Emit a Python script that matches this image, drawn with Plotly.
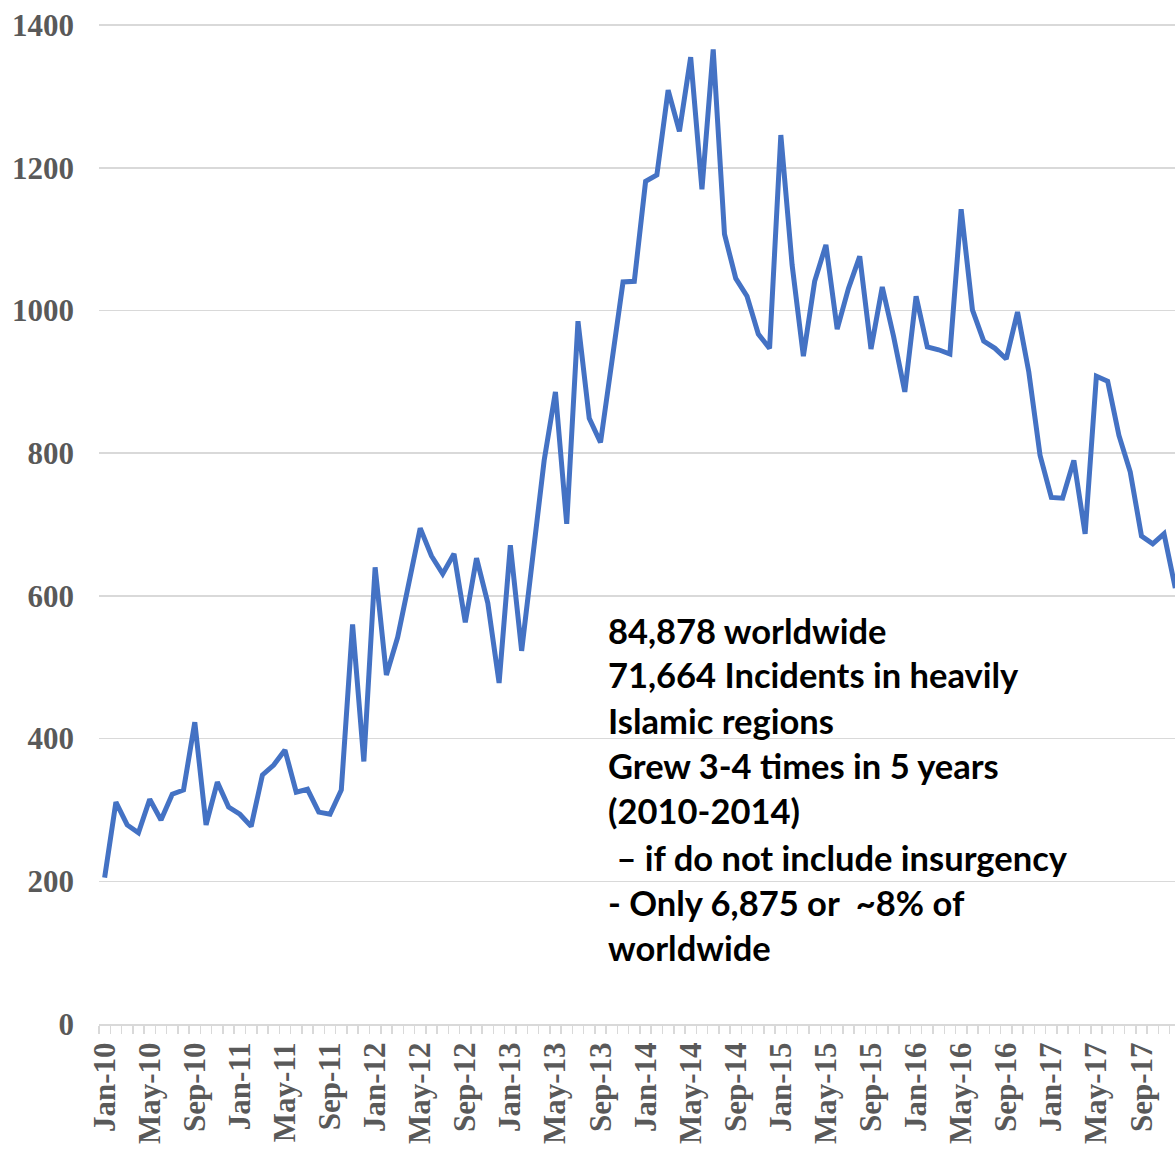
import plotly.graph_objects as go

months = ["Jan", "Feb", "Mar", "Apr", "May", "Jun", "Jul", "Aug", "Sep", "Oct", "Nov", "Dec"]
years = ["10", "11", "12", "13", "14", "15", "16", "17"]
categories = [f"{m}-{y}" for y in years for m in months]

incidents = [
    205, 311, 279, 268, 315, 286, 322, 328, 423, 279, 339, 304,
    294, 277, 349, 363, 384, 325, 329, 297, 294, 328, 560, 368,
    640, 489, 542, 617, 695, 656, 631, 659, 563, 653, 590, 478,
    671, 523, 650, 790, 886, 701, 985, 849, 815, 926, 1040, 1041,
    1181, 1190, 1309, 1251, 1355, 1170, 1366, 1107, 1045, 1020, 967, 947,
    1246, 1064, 936, 1041, 1092, 974, 1031, 1076, 946, 1033, 964, 886,
    1020, 949, 945, 939, 1142, 1001, 957, 947, 932, 998, 914, 797,
    738, 737, 790, 687, 908, 901, 825, 774, 684, 673, 687, 611,
]

y_ticks = [0, 200, 400, 600, 800, 1000, 1200, 1400]
y_top = 1403  # a hair above 1400 so the top gridline is not clipped

note_lines = [
    "84,878 worldwide",
    "71,664 Incidents in heavily",
    "Islamic regions",
    "Grew 3-4 times in 5 years",
    "(2010-2014)",
    "\u00a0– if do not include insurgency",
    "- Only 6,875 or \u00a0~8% of",
    "worldwide",
]

W, H = 1175, 1149
px_per_unit = 999 / 1400
plot_h = round(y_top * px_per_unit)
ML, MR, MB = 99, 0, 125
MT = H - MB - plot_h
plot_w = W - ML - MR
px_per_month = 11.27

idx = list(range(len(categories)))
fig = go.Figure()
fig.add_trace(go.Scatter(
    x=idx, y=incidents, mode="lines",
    line=dict(color="#4472C4", width=5, shape="linear"),
    hoverinfo="skip", showlegend=False,
))

tick_idx = idx[::4]
tick_txt = categories[::4]

fig.update_layout(
    width=W, height=H,
    margin=dict(l=ML, r=MR, t=MT, b=MB, pad=0, autoexpand=False),
    paper_bgcolor="white", plot_bgcolor="white",
    xaxis=dict(
        range=[-0.5, -0.5 + plot_w / px_per_month],
        tickmode="array", tickvals=tick_idx, ticktext=tick_txt,
        tickangle=-90, ticks="", automargin=False,
        tickfont=dict(family="Liberation Serif", size=31, color="#595959", weight="bold"),
        ticklabelstandoff=4, ticklabeloverflow="allow",
        showgrid=False, zeroline=False,
        showline=True, linecolor="#d9d9d9", linewidth=2,
        minor=dict(ticks="outside", tick0=-0.5, dtick=1, ticklen=8,
                   tickcolor="#d9d9d9", tickwidth=1.5, showgrid=False),
    ),
    yaxis=dict(
        range=[0, y_top], automargin=False,
        tickmode="array", tickvals=y_ticks,
        ticktext=[str(v) for v in y_ticks],
        tickfont=dict(family="Liberation Serif", size=31, color="#595959", weight="bold"),
        ticklabelstandoff=24, ticklabeloverflow="allow",
        showgrid=True, gridcolor="#d9d9d9", gridwidth=1.5,
        zeroline=False, showline=False, ticks="",
    ),
)

line_y_px = [630, 675, 720, 765, 810, 857, 902, 947]
for txt, ypx in zip(note_lines, line_y_px):
    fig.add_annotation(
        x=(606 - ML) / plot_w, y=(H - MB - ypx) / plot_h,
        xref="paper", yref="paper",
        xanchor="left", yanchor="middle",
        text=txt, showarrow=False, align="left",
        font=dict(family="Lato", size=34.5, color="black", weight="bold"),
    )

fig.write_html(
    "out.html",
    config={"displayModeBar": False, "staticPlot": True},
    post_script="document.body.style.margin='0';document.body.style.overflow='hidden';",
)
